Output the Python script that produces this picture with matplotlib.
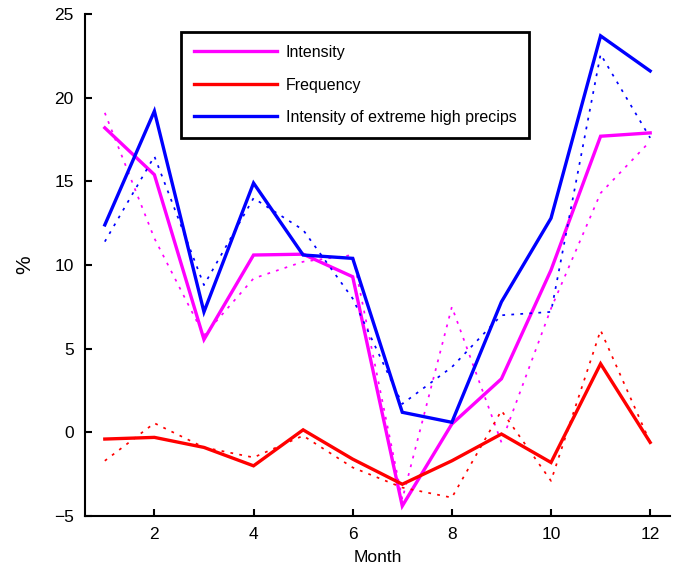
import numpy as np
import matplotlib
matplotlib.use("Agg")
import matplotlib.pyplot as plt

plt.rcParams["font.family"] = ["Liberation Sans", "DejaVu Sans"]

# ── Data ─────────────────────────────────────────────────────────────────────
months = np.arange(1, 13)

intensity = [18.2, 15.4, 5.55, 10.6, 10.65, 9.3, -4.4, 0.5, 3.2, 9.7, 17.7, 17.9]
frequency = [-0.4, -0.3, -0.9, -2.0, 0.15, -1.6, -3.1, -1.7, -0.1, -1.8, 4.1, -0.6]
extreme = [12.4, 19.2, 7.2, 14.9, 10.6, 10.4, 1.2, 0.6, 7.8, 12.8, 23.7, 21.6]

# dotted companions
intensity_dot = [19.1, 11.6, 5.8, 9.2, 10.2, 10.6, -4.0, 7.5, -0.6, 7.4, 14.3, 17.4]
frequency_dot = [-1.7, 0.55, -0.9, -1.5, -0.2, -2.1, -3.3, -3.9, 1.3, -2.9, 6.1, -0.6]
extreme_dot = [11.4, 16.5, 8.8, 14.0, 12.1, 8.0, 1.7, 3.9, 7.0, 7.2, 22.6, 17.6]

labels = ["Intensity", "Frequency", "Intensity of extreme high precips"]
colors = ["#ff00ff", "#ff0000", "#0000ff"]

# ── Plot ─────────────────────────────────────────────────────────────────────
fig = plt.figure(figsize=(6.82, 5.71), dpi=100)
ax = fig.add_axes([0.1246, 0.0963, 0.8578, 0.879])

dot_style = (0, (1.6, 3.6))
for solid, dotted, label, color in zip([intensity, frequency, extreme],
                                       [intensity_dot, frequency_dot, extreme_dot],
                                       labels, colors):
    ax.plot(months, solid, color=color, linewidth=2.4, label=label,
            solid_joinstyle="miter")
    ax.plot(months, dotted, color=color, linewidth=1.25, linestyle=dot_style)

ax.set_xlim(0.6, 12.4)
ax.set_ylim(-5, 25)
ax.set_xticks([2, 4, 6, 8, 10, 12])
ax.set_yticks([-5, 0, 5, 10, 15, 20, 25])
ax.tick_params(direction="in", length=5, width=1.5, labelsize=12.5, pad=8)
for side in ["top", "right"]:
    ax.spines[side].set_visible(False)
for side in ["left", "bottom"]:
    ax.spines[side].set_linewidth(1.5)

ax.set_xlabel("Month", fontsize=12.5, labelpad=6)
ax.set_ylabel("%", fontsize=15, labelpad=14)

leg = ax.legend(loc="upper left", bbox_to_anchor=(0.164, 0.964),
                fontsize=11.5, handlelength=5.2, handletextpad=0.56,
                labelspacing=1.1, borderpad=0.8, borderaxespad=0,
                fancybox=False, framealpha=1, edgecolor="black")
leg.get_frame().set_linewidth(2)

plt.savefig("out.png", dpi=100)
